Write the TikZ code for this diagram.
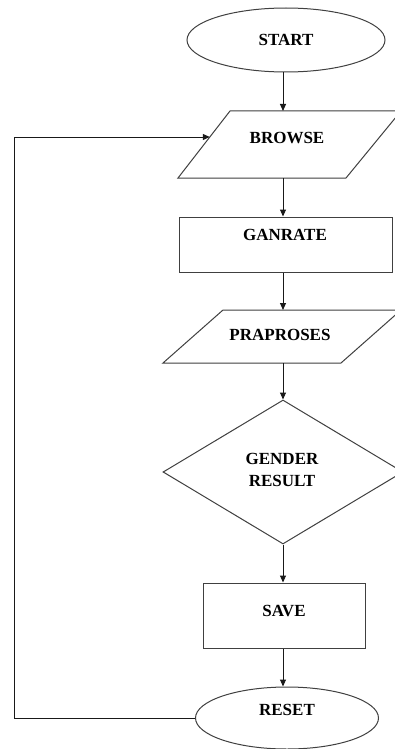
\documentclass[tikz,border=0pt]{standalone}
\usepackage{fontspec}
\setmainfont{Liberation Serif}
\usetikzlibrary{shapes.geometric,arrows.meta}
\begin{document}
\begin{tikzpicture}[x=1pt,y=-1pt,
  shp/.style={draw=black!75, line width=1pt},
  lbl/.style={font=\bfseries\fontsize{17}{22}\selectfont, inner sep=0pt, align=center},
  arr/.style={draw=black!90, line width=1pt, -{Triangle[length=7pt,width=6pt]}},
  ]
\useasboundingbox (0,0) rectangle (395,749);
\fill[white] (0,0) rectangle (395,749);
\clip (0,0) rectangle (395,749);

% START
\node[shp, ellipse, minimum width=198pt, minimum height=64pt, inner sep=0pt] (start) at (286,40) {};
\node[lbl] (startT) at (286,40) {START};

% BROWSE
\draw[shp] (230,111) -- (401,111) -- (346,178) -- (178,178) -- cycle;
\node[lbl] (browse) at (287,138) {BROWSE};
\coordinate (browseT) at (283,111);
\coordinate (browseB) at (283,178);
\coordinate (browseL) at (209.8,137);

% GANRATE
\node[shp, rectangle, minimum width=213pt, minimum height=55pt, inner sep=0pt] (ganrate) at (285.5,244.5) {};
\node[lbl] (ganrateT) at (285,235) {GANRATE};

% PRAPROSES
\draw[shp] (223,310) -- (401,310) -- (341,363) -- (163,363) -- cycle;
\node[lbl] (pra) at (280,335) {PRAPROSES};
\coordinate (praT) at (283,310);
\coordinate (praB) at (283,363);

% GENDER RESULT
\node[shp, diamond, minimum width=240pt, minimum height=144pt, inner sep=0pt] (gender) at (283,472) {};
\node[lbl] (genderT) at (282,470) {GENDER\\RESULT};

% SAVE
\node[shp, rectangle, minimum width=162pt, minimum height=65pt, inner sep=0pt] (save) at (284,615.5) {};
\node[lbl] (saveT) at (284,611) {SAVE};

% RESET
\node[shp, ellipse, minimum width=183pt, minimum height=62pt, inner sep=0pt] (reset) at (287,718) {};
\node[lbl] (resetT) at (287,710) {RESET};

\coordinate (loopx) at (14,0);

% connectors
\draw[arr] (start.south -| browseT) -- (browseT);
\draw[arr] (browseB) -- (ganrate.north -| browseB);
\draw[arr] (ganrate.south -| praT) -- (praT);
\draw[arr] (praB) -- (gender.north);
\draw[arr] (gender.south) -- (save.north -| gender.south);
\draw[arr] (save.south -| gender.south) -- (reset.north -| gender.south);
\draw[arr] (reset.west) -- (reset.west -| loopx) |- (browseL);
\end{tikzpicture}
\end{document}
